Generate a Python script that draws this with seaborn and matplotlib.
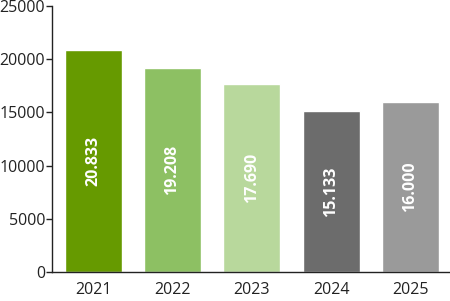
import matplotlib
matplotlib.use("Agg")
import matplotlib.pyplot as plt
import seaborn as sns
import pandas as pd

years = ["2021", "2022", "2023", "2024", "2025"]
values = [20833, 19208, 17690, 15133, 16000]
labels = ["20.833", "19.208", "17.690", "15.133", "16.000"]
colors = ["#669a00", "#8dc063", "#b8d89c", "#6c6c6c", "#9a9a9a"]

sns.set_style("white")
plt.rcParams["font.family"] = ["Open Sans", "DejaVu Sans"]

df = pd.DataFrame({"year": years, "value": values})

fig = plt.figure(figsize=(4.5, 3.01), dpi=100)
ax = fig.add_axes([52/450, 29/301, 398/450, 266/301])
sns.barplot(data=df, x="year", y="value", hue="year", palette=colors,
            width=0.72, saturation=1, legend=False, ax=ax)

for i, (v, lab) in enumerate(zip(values, labels)):
    ax.text(i, v / 2, lab, rotation=90, ha="center", va="center",
            color="white", fontsize=11.5, fontweight="bold")

ax.set_xlim(-0.52, 4.5)
ax.set_ylim(0, 25000)
ax.set_yticks([0, 5000, 10000, 15000, 20000, 25000])
ax.set_xlabel("")
ax.set_ylabel("")
for s in ["top", "right"]:
    ax.spines[s].set_visible(False)
for s in ["left", "bottom"]:
    ax.spines[s].set_color("#222222")
    ax.spines[s].set_linewidth(1)
ax.tick_params(axis="y", length=4, width=1, color="#222222", labelsize=11.5,
               labelcolor="#222222", pad=1, left=True)
ax.tick_params(axis="x", length=0, labelsize=11.5, labelcolor="#222222", pad=7)

fig.savefig("out.png", dpi=100)
